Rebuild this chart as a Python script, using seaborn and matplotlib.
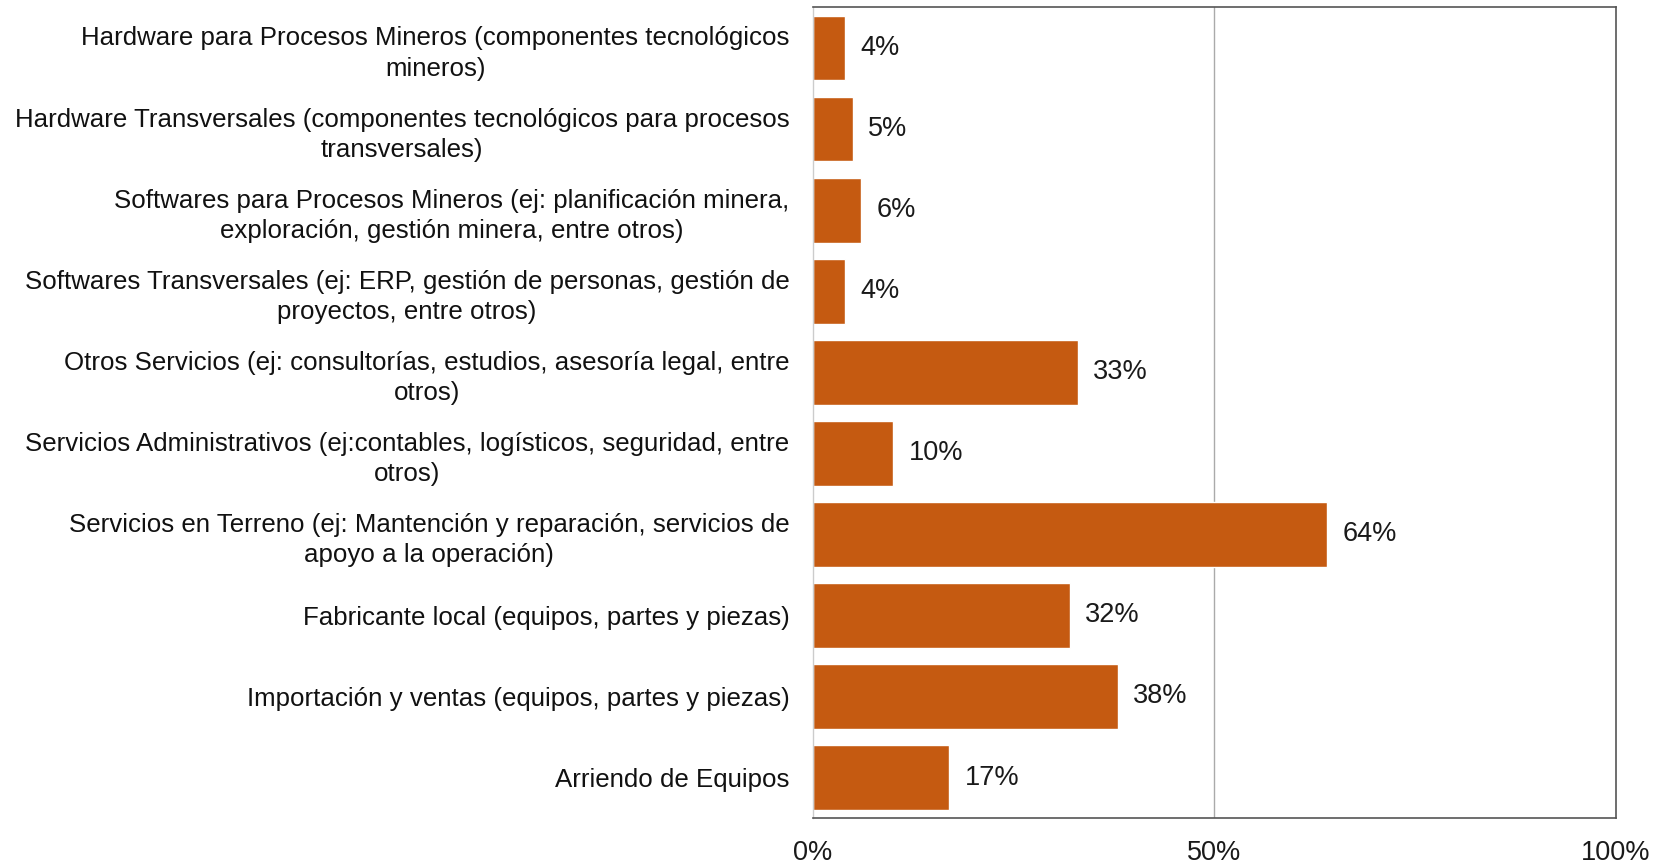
import pandas as pd
import seaborn as sns
import matplotlib.pyplot as plt

# Categories (top to bottom) and share of respondents (%)
categories = [
    'Hardware para Procesos Mineros (componentes tecnológicos\nmineros)',
    'Hardware Transversales (componentes tecnológicos para procesos\ntransversales)',
    'Softwares para Procesos Mineros (ej: planificación minera,\nexploración, gestión minera, entre otros)',
    'Softwares Transversales (ej: ERP, gestión de personas, gestión de\nproyectos, entre otros)',
    'Otros Servicios (ej: consultorías, estudios, asesoría legal, entre\notros)',
    'Servicios Administrativos (ej:contables, logísticos, seguridad, entre\notros)',
    'Servicios en Terreno (ej: Mantención y reparación, servicios de\napoyo a la operación)',
    'Fabricante local (equipos, partes y piezas)',
    'Importación y ventas (equipos, partes y piezas)',
    'Arriendo de Equipos',
]
values = [4, 5, 6, 4, 33, 10, 64, 32, 38, 17]
x_ticks = [0, 50, 100]
x_tick_labels = ['0%', '50%', '100%']

df = pd.DataFrame({'categoria': categories, 'pct': values})

sns.set_theme(style='white')
plt.rcParams['font.family'] = ['Liberation Sans', 'DejaVu Sans']

fig = plt.figure(figsize=(16.53, 8.64), dpi=100)
ax = fig.add_axes([0.4918, 0.0532, 0.4858, 0.9382])

sns.barplot(data=df, x='pct', y='categoria', color='#C55A11', saturation=1,
            width=0.8, ax=ax)

ax.set_xlim(0, 100)
ax.set_xticks(x_ticks)
ax.set_xticklabels(x_tick_labels, fontsize=19.5, color='#1a1a1a')
ax.tick_params(axis='x', length=0, pad=16)
ax.tick_params(axis='y', length=0, pad=17)
for lbl in ax.get_yticklabels():
    lbl.set_fontsize(18.6)
    lbl.set_multialignment('center')
    lbl.set_color('#111111')
    lbl.set_linespacing(1.32)
ax.set_xlabel('')
ax.set_ylabel('')

ax.axvline(50, color='#AAAAAA', lw=1, zorder=0)

for side in ['top', 'right', 'bottom']:
    ax.spines[side].set_color('#555555')
    ax.spines[side].set_linewidth(1.2)
ax.spines['left'].set_color('#CCCCCC')
ax.spines['left'].set_linewidth(1)

for i, v in enumerate(values):
    ax.text(v + 1.9, i, f'{v}%', va='center', ha='left', fontsize=19.5,
            color='#1a1a1a')

plt.savefig('out.png', dpi=100)
